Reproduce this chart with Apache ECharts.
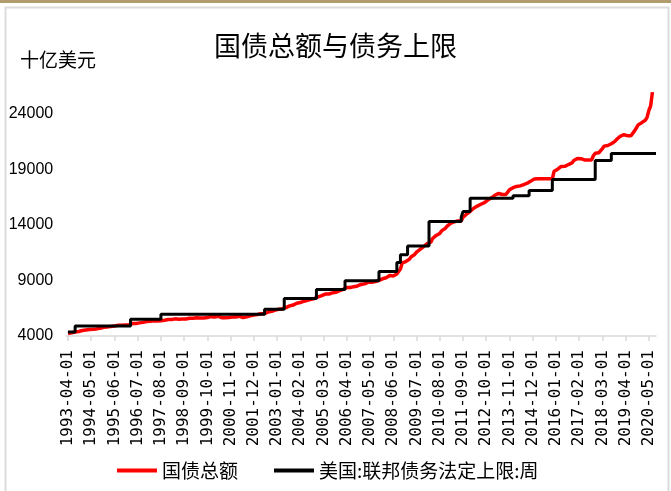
<!DOCTYPE html>
<html><head><meta charset="utf-8">
<script src="https://cdn.jsdelivr.net/npm/echarts@6/dist/echarts.min.js"></script>
<style>html,body{margin:0;padding:0;background:#fff}#c{width:671px;height:491px}</style>
</head><body><div id="c"></div>
<script>
const chartTitle = '国债总额与债务上限';
const unitLabel = '十亿美元';
const seriesNames = ['国债总额', '美国:联邦债务法定上限:周'];
const xTickLabels = ['1993-04-01','1994-05-01','1995-06-01','1996-07-01','1997-08-01','1998-09-01','1999-10-01',
  '2000-11-01','2001-12-01','2003-01-01','2004-02-01','2005-03-01','2006-04-01','2007-05-01','2008-06-01',
  '2009-07-01','2010-08-01','2011-09-01','2012-10-01','2013-11-01','2014-12-01','2016-01-01','2017-02-01',
  '2018-03-01','2019-04-01','2020-05-01'];
const yTickValues = [4000, 9000, 14000, 19000, 24000];

// 国债总额: monthly readings (value at start of each month) from debtStart
const debtStart = '1993-04';
const debtValues = [
  4230,
  4250, 4290, 4352, 4360, 4380, 4411, 4430, 4490, 4536,
  4540, 4575, 4576, 4560, 4600, 4645, 4640, 4670, 4693, 4730, 4780, 4801,
  4810, 4850, 4865, 4850, 4890, 4951, 4960, 4970, 4974, 4985, 4987, 4989,
  4990, 4990, 5118, 5100, 5130, 5161, 5180, 5220, 5225, 5260, 5300, 5323,
  5330, 5370, 5381, 5330, 5350, 5376, 5380, 5420, 5413, 5440, 5480, 5503,
  5490, 5530, 5543, 5480, 5510, 5548, 5530, 5560, 5526, 5560, 5600, 5614,
  5600, 5640, 5651, 5590, 5620, 5639, 5630, 5660, 5656, 5680, 5740, 5776,
  5710, 5740, 5773, 5690, 5650, 5686, 5650, 5680, 5674, 5660, 5700, 5662,
  5716, 5735, 5774, 5660, 5660, 5727, 5720, 5770, 5807, 5830, 5890, 5943,
  5930, 6000, 6006, 5980, 6020, 6126, 6160, 6200, 6228, 6280, 6340, 6405,
  6400, 6445, 6460, 6460, 6560, 6670, 6710, 6780, 6783, 6870, 6950, 6998,
  7010, 7080, 7131, 7130, 7220, 7274, 7300, 7370, 7379, 7430, 7520, 7596,
  7630, 7710, 7777, 7760, 7780, 7836, 7880, 7930, 7933, 8030, 8090, 8170,
  8200, 8270, 8371, 8340, 8360, 8420, 8440, 8500, 8507, 8560, 8640, 8680,
  8690, 8800, 8849, 8840, 8840, 8867, 8900, 8980, 9008, 9080, 9150, 9229,
  9240, 9370, 9437, 9400, 9400, 9492, 9580, 9650, 10025, 10574, 10661, 10700,
  10630, 10900, 11127, 11240, 11340, 11545, 11670, 11800, 11910, 12040, 12100, 12311,
  12280, 12440, 12773, 12950, 13050, 13202, 13230, 13460, 13562, 13670, 13860, 14025,
  14130, 14190, 14270, 14290, 14343, 14343, 14343, 14684, 14790, 14970, 15050, 15223,
  15360, 15500, 15582, 15690, 15770, 15856, 15880, 16000, 16066, 16260, 16370, 16433,
  16430, 16690, 16771, 16830, 16740, 16738, 16738, 16738, 16738, 17156, 17210, 17352,
  17290, 17460, 17601, 17510, 17520, 17633, 17690, 17750, 17824, 17940, 18000, 18141,
  18080, 18150, 18152, 18152, 18152, 18152, 18151, 18151, 18151, 18153, 18827, 18922,
  19010, 19120, 19264, 19190, 19270, 19381, 19430, 19510, 19573, 19800, 19950, 19977,
  19940, 19960, 19846, 19846, 19846, 19845, 19845, 19845, 20245, 20440, 20590, 20493,
  20494, 20856, 21090, 21070, 21140, 21195, 21300, 21450, 21516, 21700, 21850, 21974,
  21982, 22115, 22028, 22030, 22030, 22023, 22023, 22464, 22719, 23000, 23100, 23201,
  23223, 23410, 23686, 24300, 24700, 25950
];

// 美国:联邦债务法定上限:周 — value takes effect from each date
const ceilingDates = ['1993-04','1993-08','1996-03','1997-08','2002-06','2003-05','2004-11','2006-03',
  '2007-10','2008-08','2008-10','2009-02','2010-02','2011-08','2011-09','2012-01','2014-01','2014-10',
  '2015-11','2017-11','2018-08','2020-09'];
const ceilingValues = [4370, 4900, 5500, 5950, 6400, 7384, 8184, 8965,
  9815, 10615, 11315, 12104, 14294, 14694, 15194, 16394, 16620, 17100,
  18080, 19790, 20420, 20420];

function monthIndex(s) {
  const p = s.split('-');
  return (+p[0] - 1993) * 12 + (+p[1] - 4);
}
const tickIdx = xTickLabels.map(monthIndex);
const labelByIdx = {};
tickIdx.forEach((v, i) => { labelByIdx[v] = xTickLabels[i]; });

const debtData = debtValues.map((v, i) => [monthIndex(debtStart) + i, v]);
const ceilingData = ceilingDates.map((d, i) => [monthIndex(d), ceilingValues[i]]);

const chart = echarts.init(document.getElementById('c'), null, {renderer: 'canvas'});
chart.setOption({
  animation: false,
  backgroundColor: '#ffffff',
  title: {
    text: chartTitle, left: 'center', top: 27,
    textStyle: {fontFamily: 'Noto Sans CJK SC', fontSize: 27, fontWeight: 'normal', color: '#000'}
  },
  graphic: [
    {type: 'rect', shape: {x: 0, y: 0, width: 671, height: 3}, style: {fill: '#b09c6c'}, silent: true},
    {type: 'polyline', shape: {points: [[5.5, 495], [5.5, 7.5], [668.5, 7.5], [668.5, 495]]},
      style: {stroke: '#dcdcdc', lineWidth: 2, fill: null}, silent: true},
    {type: 'text', left: 20, top: 50, style: {text: unitLabel, font: '19px "Noto Sans CJK SC"', fill: '#000'}}
  ],
  legend: {
    left: 112, top: 456, itemWidth: 40, itemHeight: 4, itemGap: 36, icon: 'rect',
    textStyle: {fontFamily: 'Noto Sans CJK SC', fontSize: 19, color: '#000'},
    data: seriesNames
  },
  grid: {left: 66.2, right: 15, top: 86, bottom: 155, containLabel: false},
  xAxis: {
    type: 'value', min: -1, max: 329,
    axisLine: {show: true, lineStyle: {color: '#d9d9d9', width: 1.5}},
    axisTick: {show: true, length: 5, customValues: tickIdx, lineStyle: {color: '#d9d9d9', width: 1.5}},
    axisLabel: {
      customValues: tickIdx, rotate: 90, margin: 14,
      fontFamily: 'DejaVu Sans Mono', fontSize: 16, color: '#000',
      formatter: v => labelByIdx[v] || ''
    },
    splitLine: {show: false}
  },
  yAxis: {
    type: 'value', min: 4000, max: 26500,
    axisLine: {show: false}, axisTick: {show: false}, splitLine: {show: false},
    axisLabel: {customValues: yTickValues, margin: 13, fontFamily: 'Liberation Sans', fontSize: 16, color: '#000',
      formatter: v => String(v)}
  },
  series: [
    {name: seriesNames[0], type: 'line', data: debtData, showSymbol: false, symbol: 'none',
      lineStyle: {color: '#ff0000', width: 3.5}, itemStyle: {color: '#ff0000'}},
    {name: seriesNames[1], type: 'line', step: 'end', data: ceilingData, showSymbol: false, symbol: 'none',
      lineStyle: {color: '#000000', width: 3}, itemStyle: {color: '#000000'}}
  ]
});
</script></body></html>
